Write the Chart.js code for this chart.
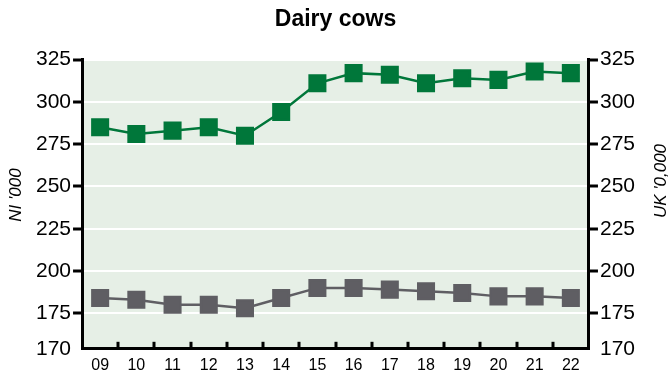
<!DOCTYPE html>
<html>
<head>
<meta charset="utf-8">
<script src="https://cdn.jsdelivr.net/npm/chart.js@4/dist/chart.umd.min.js"></script>
<style>
  html, body { margin: 0; padding: 0; background: #fff; }
  #wrap { width: 672px; height: 374px; }
</style>
</head>
<body>
<div id="wrap"><canvas id="grafico" width="672" height="374"></canvas></div>
<script>
var anos = ["09", "10", "11", "12", "13", "14", "15", "16", "17", "18", "19", "20", "21", "22"];
var ni = [285, 281, 283, 285, 280, 294, 311, 317, 316, 311, 314, 313, 318, 317];
var uk = [184, 183, 180, 180, 178, 184, 190, 190, 189, 188, 187, 185, 185, 184];
var marcas = [175, 200, 225, 250, 275, 300, 325];
var baseEixo = 154; // broken axis: bottom is labelled 170
var rotuloBase = "170";

var verde = "#00773a";
var cinza = "#5f5e63";
var fundo = "#e6efe6";
var fonte = "'Liberation Sans', Arial, sans-serif";

var desenhos = {
    id: "desenhos",
    beforeDraw: function (chart) {
        var a = chart.chartArea, c = chart.ctx;
        c.save();
        c.fillStyle = fundo;
        c.fillRect(a.left, a.top, a.right - a.left, a.bottom - a.top);
        c.restore();
    },
    afterDraw: function (chart) {
        var a = chart.chartArea, c = chart.ctx, x = chart.scales.x;
        c.save();
        // inward tick marks between categories
        c.strokeStyle = "#000";
        c.lineWidth = 3;
        for (var i = 0; i < anos.length - 1; i++) {
            var px = Math.round((x.getPixelForValue(i) + x.getPixelForValue(i + 1)) / 2);
            c.beginPath();
            c.moveTo(px, a.bottom);
            c.lineTo(px, a.bottom - 7);
            c.stroke();
        }
        // axis titles, both reading upwards
        c.fillStyle = "#000";
        c.font = "italic 17px " + fonte;
        c.textAlign = "center";
        c.textBaseline = "middle";
        c.translate(16, 195);
        c.rotate(-Math.PI / 2);
        c.fillText("NI '000", 0, 0);
        c.setTransform(1, 0, 0, 1, 0, 0);
        c.translate(661, 181);
        c.rotate(-Math.PI / 2);
        c.fillText("UK '0,000", 0, 0);
        c.restore();
    }
};

function eixoY(pos) {
    return {
        position: pos,
        min: baseEixo,
        max: 325,
        afterBuildTicks: function (s) {
            s.ticks = [{ value: baseEixo }].concat(marcas.map(function (v) { return { value: v }; }));
        },
        border: { color: "#000", width: 3 },
        grid: {
            drawOnChartArea: pos === "left",
            color: function (c) { return c.tick && c.tick.value === baseEixo ? "rgba(0,0,0,0)" : "#ffffff"; },
            lineWidth: 2,
            tickLength: 9,
            tickWidth: 3,
            tickColor: function (c) { return c.tick && c.tick.value === baseEixo ? "rgba(0,0,0,0)" : "#000"; }
        },
        ticks: {
            color: "#000",
            padding: 2,
            font: { family: fonte, size: 21 },
            callback: function (v) { return v === baseEixo ? rotuloBase : v; }
        }
    };
}

var ctx = document.getElementById("grafico").getContext("2d");

var grafico = new Chart(ctx, {
    type: "line",
    data: {
        labels: anos,
        datasets: [{
            label: "NI",
            data: ni,
            borderColor: verde,
            backgroundColor: verde,
            borderWidth: 2.5,
            pointStyle: "rect",
            pointRadius: 11,
            pointHoverRadius: 11,
            tension: 0
        }, {
            label: "UK",
            data: uk,
            borderColor: cinza,
            backgroundColor: cinza,
            borderWidth: 2.5,
            pointStyle: "rect",
            pointRadius: 11,
            pointHoverRadius: 11,
            tension: 0
        }]
    },
    options: {
        responsive: false,
        animation: false,
        layout: { padding: { left: 34, right: 35, top: 0, bottom: -8 } },
        scales: {
            x: {
                offset: true,
                border: { color: "#000", width: 3 },
                grid: { display: false, drawTicks: false },
                ticks: {
                    color: "#000",
                    padding: 7,
                    maxRotation: 0,
                    font: { family: fonte, size: 16 }
                }
            },
            y: eixoY("left"),
            y2: eixoY("right")
        },
        plugins: {
            legend: { display: false },
            tooltip: { enabled: false },
            title: {
                display: true,
                text: "Dairy cows",
                color: "#000",
                font: { family: fonte, size: 23, weight: "bold" },
                padding: { top: 6, bottom: 26 }
            }
        }
    },
    plugins: [desenhos]
});
</script>
</body>
</html>
